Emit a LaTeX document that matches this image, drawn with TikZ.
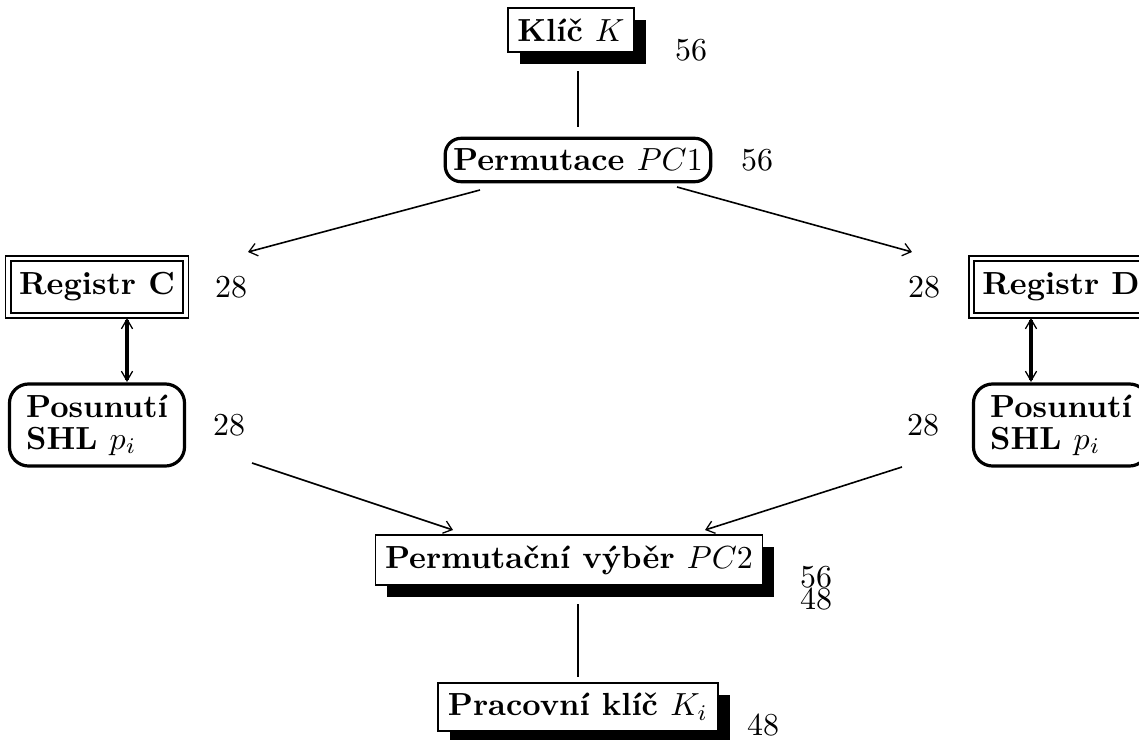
\documentclass[tikz,border=0pt]{standalone}
\usepackage{fontspec}
\usepackage{amsmath}
\usepackage{tikz}
\usetikzlibrary{positioning,shadows,arrows.meta}

\begin{document}
\begin{tikzpicture}[x=0.011cm,y=-0.011cm,
			keybox/.style={rectangle, draw, line width=0.6pt, fill=white, font=\bfseries, inner xsep=3pt, minimum height=12.5pt,
				drop shadow={shadow xshift=3.75pt, shadow yshift=-3.75pt, fill=black, opacity=1}},
			roundbox/.style={rectangle, draw, line width=1pt, rounded corners=5pt, fill=white, font=\bfseries, inner xsep=2.5pt, minimum height=12.5pt},
			regbox/.style={rectangle, draw, double, line width=0.6pt, double distance=1pt, font=\bfseries, minimum width=55.7pt, minimum height=17.8pt},
			shiftbox/.style={rectangle, draw, line width=1pt, rounded corners=6pt, font=\bfseries, minimum width=54.8pt, minimum height=23.2pt},
			width/.style={inner sep=0pt},
			link/.style={line width=0.5pt, -{Straight Barb[length=2.5pt,width=4pt,line width=0.4pt]}},
			swap/.style={line width=1pt, {Straight Barb[length=3pt,width=3.5pt,line width=0.4pt]}-{Straight Barb[length=3pt,width=3.5pt,line width=0.4pt]}},
			]
			\useasboundingbox (0,0) rectangle (1139,740);
			%Nodes
				\node[keybox]		(key)		at (571,30)		{Klíč $K$};
				\node[width]		(key-w)		at (691,50)		{56};
				\node[roundbox]		(pc1)		at (578,160)	{Permutace $PC1$};
				\node[width]		(pc1-w)		at (757,160)	{56};
				\node[regbox]		(regC)		at (97,287)		{Registr C};
				\node[width]		(regC-w)	at (231,287)	{28};
				\node[regbox]		(regD)		at (1061,287)	{Registr D};
				\node[width]		(regD-w)	at (924,287)	{28};
				\node[shiftbox]		(shC)		at (97,425)		{\shortstack[l]{Posunutí\\SHL $p_i$}};
				\node[width]		(shC-w)		at (229,425)	{28};
				\node[shiftbox]		(shD)		at (1061,425)	{\shortstack[l]{Posunutí\\SHL $p_i$}};
				\node[width]		(shD-w)		at (923,425)	{28};
				\node[keybox]		(pc2)		at (569,560)	{Permutační výběr $PC2$};
				\node[width, align=center]	(pc2-w)	at (816,588)	{56\\[-5pt]48};
				\node[keybox]		(ki)		at (578,707)	{Pracovní klíč $K_i$};
				\node[width]		(ki-w)		at (763,725)	{48};

				\coordinate			(pc1-l)		at (480,190);
				\coordinate			(pc1-r)		at (677,187);
				\coordinate			(toC)		at (248,252);
				\coordinate			(toD)		at (912,252);
				\coordinate			(regC-s)	at (127,318);
				\coordinate			(shC-n)		at (127,382);
				\coordinate			(regD-s)	at (1031,318);
				\coordinate			(shD-n)		at (1031,382);
				\coordinate			(shC-o)		at (252,463);
				\coordinate			(shD-o)		at (902,467);
				\coordinate			(pc2-l)		at (453,530);
				\coordinate			(pc2-r)		at (705,530);

			%Lines
				\draw[line width=0.6pt, shorten <=0.2cm, shorten >=0.11cm] (pc1.north |- key.south) -- (pc1.north);
				\draw[link] (pc1-l) -- (toC);
				\draw[link] (pc1-r) -- (toD);
				\draw[swap] (regC-s) -- (shC-n);
				\draw[swap] (regD-s) -- (shD-n);
				\draw[link] (shC-o) -- (pc2-l);
				\draw[link] (shD-o) -- (pc2-r);
				\draw[line width=0.6pt, shorten <=0.2cm, shorten >=0.05cm] (ki.north |- pc2.south) -- (ki.north);
		\end{tikzpicture}
\end{document}
